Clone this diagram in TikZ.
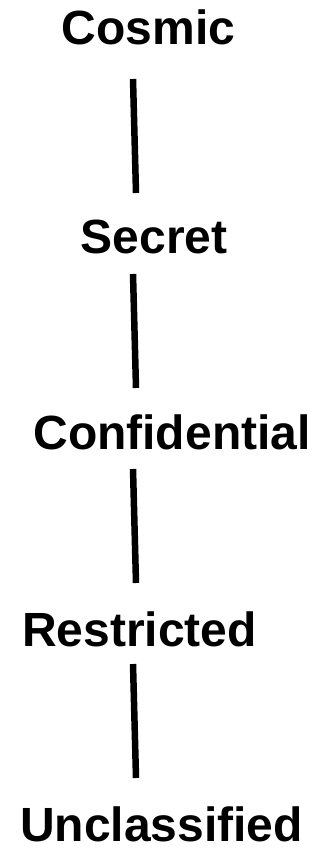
\documentclass[tikz,border=0pt]{standalone}
\usepackage{fontspec}
\setmainfont{Liberation Sans}
\begin{document}
\begin{tikzpicture}[x=1pt,y=-1pt,
  level/.style={anchor=base,inner sep=0pt,font=\fontsize{48}{58}\selectfont\bfseries},
  link/.style={line width=6.5pt,black}]
\useasboundingbox (0,0) rectangle (320,848);
\node[level] (cosmic) at (148.5,45) {Cosmic};
\node[level] (secret) at (154,253) {Secret};
\node[level] (conf) at (172,449) {Confidential};
\node[level] (restr) at (139.5,646) {Restricted};
\node[level] (uncl) at (161.5,841) {Unclassified};
\coordinate (a1) at (133,79);  \coordinate (b1) at (136,193);
\coordinate (a2) at (133,274); \coordinate (b2) at (136,388);
\coordinate (a3) at (133,469); \coordinate (b3) at (136,583);
\coordinate (a4) at (133,664); \coordinate (b4) at (136,778);
\draw[link] (a1) -- (b1);
\draw[link] (a2) -- (b2);
\draw[link] (a3) -- (b3);
\draw[link] (a4) -- (b4);
\end{tikzpicture}
\end{document}
